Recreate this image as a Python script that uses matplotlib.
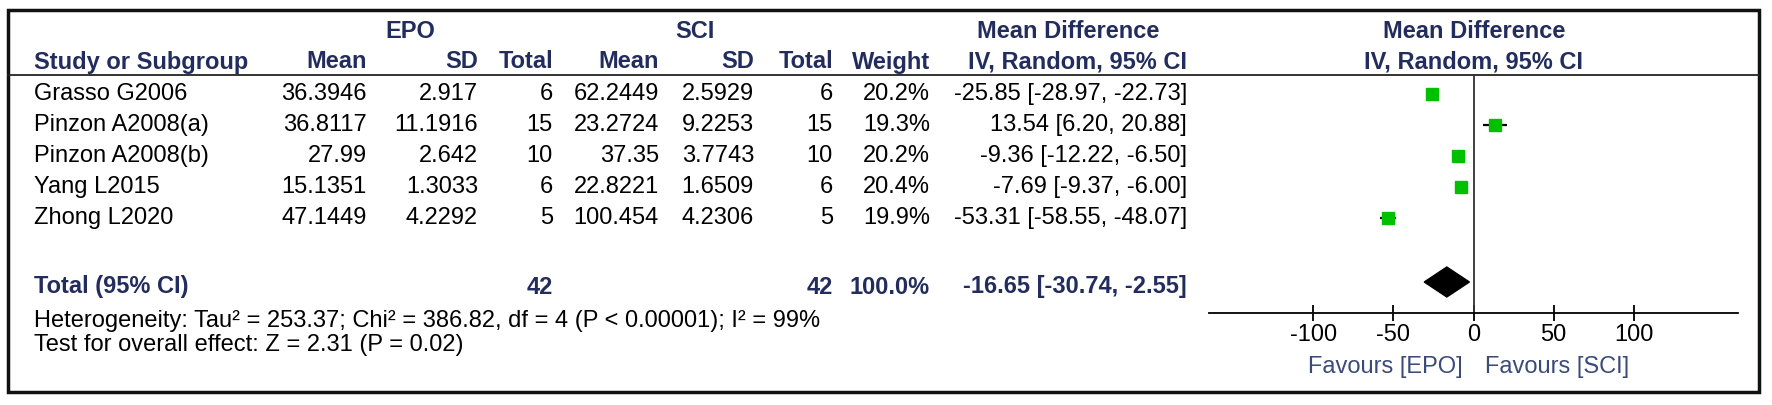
import numpy as np
import matplotlib.pyplot as plt
from matplotlib.patches import Polygon, Rectangle

# study data
studies = ['Grasso G2006', 'Pinzon A2008(a)', 'Pinzon A2008(b)', 'Yang L2015', 'Zhong L2020']
epo_mean = [36.3946, 36.8117, 27.99, 15.1351, 47.1449]
epo_sd = [2.917, 11.1916, 2.642, 1.3033, 4.2292]
epo_n = [6, 15, 10, 6, 5]
sci_mean = [62.2449, 23.2724, 37.35, 22.8221, 100.454]
sci_sd = [2.5929, 9.2253, 3.7743, 1.6509, 4.2306]
sci_n = [6, 15, 10, 6, 5]
weight = [20.2, 19.3, 20.2, 20.4, 19.9]
md = [-25.85, 13.54, -9.36, -7.69, -53.31]
ci_lo = [-28.97, 6.20, -12.22, -9.37, -58.55]
ci_hi = [-22.73, 20.88, -6.50, -6.00, -48.07]

# pooled result
total_epo_n = 42
total_sci_n = 42
total_weight = 100.0
total_md = -16.65
total_lo = -30.74
total_hi = -2.55
heterogeneity = 'Heterogeneity: Tau\u00b2 = 253.37; Chi\u00b2 = 386.82, df = 4 (P < 0.00001); I\u00b2 = 99%'
overall = 'Test for overall effect: Z = 2.31 (P = 0.02)'
xticks = [-100, -50, 0, 50, 100]

# style
W, H = 1772, 405
fs = 17
navy = '#222d5e'
green = '#00c000'
plt.rcParams['font.family'] = ['Liberation Sans', 'DejaVu Sans']
plt.rcParams['axes.unicode_minus'] = False

fig = plt.figure(figsize=(W / 100, H / 100), dpi=100)

# table layer, pixel layout
tab = fig.add_axes([0, 0, 1, 1])
tab.set_xlim(0, W)
tab.set_ylim(H, 0)
tab.axis('off')

tab.add_patch(Rectangle((8, 10), 1751, 382, fill=False, lw=2.5, ec='#111111'))
tab.plot([8, 1759], [75, 75], color='#222222', lw=1.3)

row_y = 94 + 31 * np.arange(len(studies))
total_y = 287

# column right edges
c_study = 34
c_cols = [367, 478, 553, 659, 754, 833, 930, 1187]

hdr = dict(fontsize=fs, color=navy, fontweight='bold', va='center')
tab.text(410, 32, 'EPO', ha='center', **hdr)
tab.text(695, 32, 'SCI', ha='center', **hdr)
tab.text(1068, 32, 'Mean Difference', ha='center', **hdr)
tab.text(1474, 32, 'Mean Difference', ha='center', **hdr)
tab.text(c_study, 62, 'Study or Subgroup', ha='left', **hdr)
for x, s in zip(c_cols, ['Mean', 'SD', 'Total', 'Mean', 'SD', 'Total', 'Weight', 'IV, Random, 95% CI']):
    tab.text(x, 62, s, ha='right', **hdr)
tab.text(1474, 62, 'IV, Random, 95% CI', ha='center', **hdr)

# study rows
for i, y in enumerate(row_y):
    vals = [str(epo_mean[i]), str(epo_sd[i]), str(epo_n[i]),
            str(sci_mean[i]), str(sci_sd[i]), str(sci_n[i]),
            f'{weight[i]:.1f}%', f'{md[i]:.2f} [{ci_lo[i]:.2f}, {ci_hi[i]:.2f}]']
    tab.text(c_study, y, studies[i], ha='left', va='center', fontsize=fs)
    for x, s in zip(c_cols, vals):
        tab.text(x, y, s, ha='right', va='center', fontsize=fs)

# total row
tab.text(c_study, total_y, 'Total (95% CI)', ha='left', **hdr)
tvals = {2: str(total_epo_n), 5: str(total_sci_n), 6: f'{total_weight:.1f}%',
         7: f'{total_md:.2f} [{total_lo:.2f}, {total_hi:.2f}]'}
for k, s in tvals.items():
    tab.text(c_cols[k], total_y, s, ha='right', **hdr)

tab.text(c_study, 321, heterogeneity, ha='left', va='center', fontsize=fs)
tab.text(c_study, 345, overall, ha='left', va='center', fontsize=fs)

# forest plot
x0, x1 = 1209, 1738
fx = fig.add_axes([x0 / W, 0, (x1 - x0) / W, 1])
fx.set_xlim(-165, 165)
fx.set_ylim(H, 0)
fx.patch.set_alpha(0)
for s in ['left', 'right', 'top']:
    fx.spines[s].set_visible(False)
fx.spines['bottom'].set_position(('data', 313))
fx.spines['bottom'].set_linewidth(1.3)
fx.set_yticks([])
fx.set_xticks(xticks)
fx.tick_params(axis='x', direction='inout', length=12, width=1.3, labelsize=fs, pad=2)

fx.vlines(0, 75, 313, color='#333333', lw=1.3)
fx.hlines(row_y, ci_lo, ci_hi, color='black', lw=1.6, zorder=2)
fx.plot(md, row_y, 's', ms=8, color=green, mec=green, zorder=3)
dy = total_y - 5
fx.add_patch(Polygon([(total_lo, dy), (total_md, dy - 15),
                      (total_hi, dy), (total_md, dy + 15)],
                     closed=True, color='black', zorder=3))

fx.text(-7, 367, 'Favours [EPO]', ha='right', va='center', fontsize=fs, color='#3a4a7a')
fx.text(7, 367, 'Favours [SCI]', ha='left', va='center', fontsize=fs, color='#3a4a7a')

fig.savefig('out.png', dpi=100)
